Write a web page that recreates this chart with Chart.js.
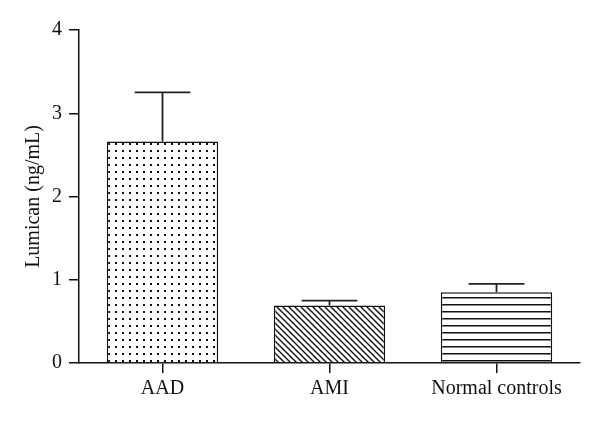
<!DOCTYPE html>
<html>
<head>
<meta charset="utf-8">
<script src="https://cdn.jsdelivr.net/npm/chart.js@4"></script>
<style>
  html, body { margin: 0; padding: 0; background: #fff; }
  #wrap { width: 600px; height: 421px; }
</style>
</head>
<body>
<div id="wrap"><canvas id="chart" width="600" height="421"></canvas></div>
<script>
// Data
const groups = ['AAD', 'AMI', 'Normal controls'];
const means = [2.66, 0.69, 0.85];
const errorTops = [3.25, 0.75, 0.95];
const yTicks = [0, 1, 2, 3, 4];

const FONT = '"Liberation Serif", "Times New Roman", serif';

function makePattern(kind) {
    const c = document.createElement('canvas');
    const ctx = c.getContext('2d');
    if (kind === 'dots') {
        c.width = 7; c.height = 7;
        ctx.fillStyle = '#fff';
        ctx.fillRect(0, 0, 7, 7);
        ctx.fillStyle = '#111';
        ctx.fillRect(3, 3, 2, 2);
    } else if (kind === 'diag') {
        c.width = 6; c.height = 6;
        ctx.fillStyle = '#fff';
        ctx.fillRect(0, 0, 6, 6);
        ctx.strokeStyle = '#111';
        ctx.lineWidth = 1.4;
        ctx.beginPath();
        ctx.moveTo(-1, -1); ctx.lineTo(7, 7);
        ctx.moveTo(-4, 2); ctx.lineTo(2, 8);
        ctx.moveTo(2, -4); ctx.lineTo(8, 2);
        ctx.stroke();
    } else {
        c.width = 8; c.height = 7;
        ctx.fillStyle = '#fff';
        ctx.fillRect(0, 0, 8, 7);
        ctx.fillStyle = '#111';
        ctx.fillRect(0, 3, 8, 1.5);
    }
    return ctx.createPattern(c, 'repeat');
}

const errorBars = {
    id: 'errorBars',
    afterDatasetsDraw(chart) {
        const ctx = chart.ctx;
        const meta = chart.getDatasetMeta(0);
        const y = chart.scales.y;
        ctx.save();
        ctx.strokeStyle = '#222';
        ctx.lineWidth = 1.8;
        meta.data.forEach((bar, i) => {
            const half = bar.width / 4;
            const yTop = y.getPixelForValue(errorTops[i]);
            const yBar = y.getPixelForValue(means[i]);
            ctx.beginPath();
            ctx.moveTo(bar.x, yBar);
            ctx.lineTo(bar.x, yTop);
            ctx.moveTo(bar.x - half, yTop);
            ctx.lineTo(bar.x + half, yTop);
            ctx.stroke();
        });
        ctx.restore();
    }
};

new Chart(document.getElementById('chart'), {
    type: 'bar',
    data: {
        labels: groups,
        datasets: [{
            data: means,
            backgroundColor: [makePattern('dots'), makePattern('diag'), makePattern('lines')],
            borderColor: '#111',
            borderWidth: 1.5,
            categoryPercentage: 1,
            barPercentage: 0.667
        }]
    },
    options: {
        responsive: false,
        animation: false,
        devicePixelRatio: 1,
        layout: { padding: { top: 30, right: 20, left: 22 } },
        plugins: { legend: { display: false }, tooltip: { enabled: false } },
        scales: {
            x: {
                afterFit: s => { s.height = 58; },
                grid: { display: true, drawOnChartArea: false, offset: false, tickLength: 10, color: '#111', lineWidth: 1.5 },
                border: { color: '#111', width: 1.5 },
                ticks: { color: '#111', font: { family: FONT, size: 20 }, padding: 4 }
            },
            y: {
                min: 0,
                max: 4,
                afterFit: s => { s.width = 57; },
                afterBuildTicks: s => { s.ticks = yTicks.map(v => ({ value: v })); },
                grid: { drawOnChartArea: false, tickLength: 10, color: '#111', lineWidth: 1.5 },
                border: { color: '#111', width: 1.5 },
                ticks: { color: '#111', font: { family: FONT, size: 20 }, padding: 7 },
                title: { display: true, text: 'Lumican (ng/mL)', color: '#111', font: { family: FONT, size: 20 }, padding: 0 }
            }
        }
    },
    plugins: [errorBars]
});
</script>
</body>
</html>
